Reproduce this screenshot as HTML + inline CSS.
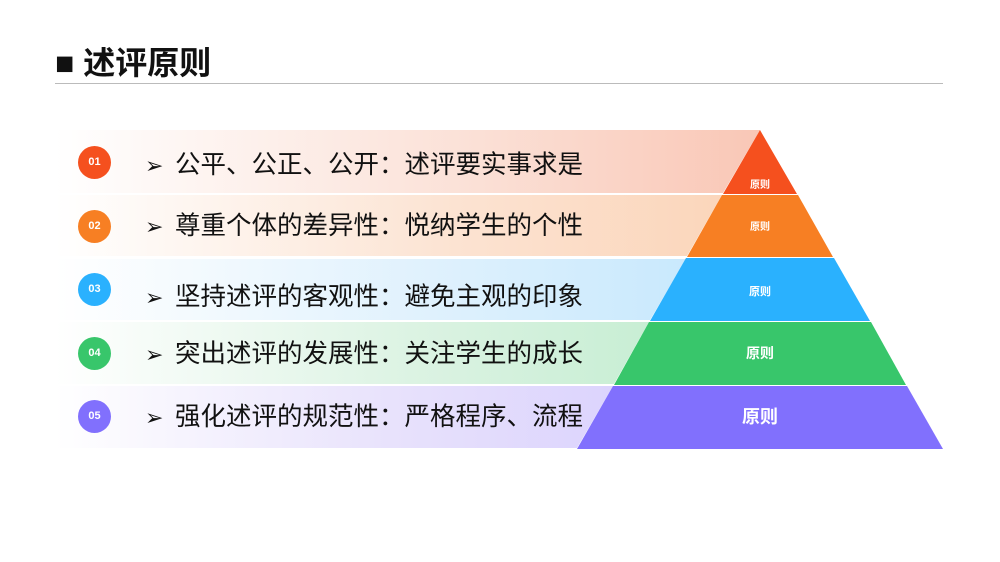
<!DOCTYPE html>
<html><head><meta charset="utf-8"><style>
body{margin:0;width:1000px;height:562px;background:#fff;position:relative;overflow:hidden;font-family:"Liberation Sans","Noto Sans CJK SC",sans-serif}
.t{position:absolute;left:55px;top:38px;font-size:32px;font-weight:bold;color:#111;white-space:nowrap}
.ln{position:absolute;left:55px;top:83px;width:888px;height:1px;background:#bbb}
.c{position:absolute;left:78px;width:33px;height:33px;border-radius:50%;color:#fff;font-size:11px;font-weight:bold;text-align:center;line-height:33px}
.x{position:absolute;left:145px;font-size:25.5px;color:#111;white-space:nowrap}
.x span{display:inline-block;width:30px;font-size:22px;font-family:"DejaVu Sans",sans-serif}
</style></head><body>
<div class="t">■ 述评原则</div>
<div class="ln"></div>
<svg style="position:absolute;left:0;top:0" width="1000" height="562">
<defs>
<linearGradient id="g1"><stop offset="0" stop-color="#fff"/><stop offset=".6" stop-color="#fbe0d6"/><stop offset="1" stop-color="#f9c7b6"/></linearGradient>
<linearGradient id="g2"><stop offset="0" stop-color="#fff"/><stop offset=".6" stop-color="#fce3d2"/><stop offset="1" stop-color="#fbd6bb"/></linearGradient>
<linearGradient id="g3"><stop offset="0" stop-color="#fff"/><stop offset=".6" stop-color="#dff1fd"/><stop offset="1" stop-color="#c9e9fd"/></linearGradient>
<linearGradient id="g4"><stop offset="0" stop-color="#fff"/><stop offset=".6" stop-color="#dcf3e3"/><stop offset="1" stop-color="#c8eed4"/></linearGradient>
<linearGradient id="g5"><stop offset="0" stop-color="#fff"/><stop offset=".6" stop-color="#e8e2fc"/><stop offset="1" stop-color="#dcd4fd"/></linearGradient>
</defs>
<polygon points="55,130 760,130 723,193 55,193" fill="url(#g1)"/>
<polygon points="55,195 722,195 687,256 55,256" fill="url(#g2)"/>
<polygon points="55,259 686,259 650,320 55,320" fill="url(#g3)"/>
<polygon points="55,322 649,322 614,384 55,384" fill="url(#g4)"/>
<polygon points="55,386 613,386 577,448 55,448" fill="url(#g5)"/>
<polygon points="760,130 797,194 723,194" fill="#f5501e"/>
<polygon points="722,195 798,195 833,257 687,257" fill="#f77f23"/>
<polygon points="686,258 834,258 870,321 650,321" fill="#2ab1fe"/>
<polygon points="649,322 871,322 906,385 614,385" fill="#38c66b"/>
<polygon points="613,386 907,386 943,449 577,449" fill="#8170fd"/>
<g fill="#fff" font-weight="bold" text-anchor="middle" font-family="Liberation Sans,Noto Sans CJK SC,sans-serif">
<text x="760" y="188" font-size="10">原则</text>
<text x="760" y="230" font-size="10">原则</text>
<text x="760" y="295" font-size="11">原则</text>
<text x="760" y="358" font-size="14">原则</text>
<text x="760" y="423" font-size="18">原则</text>
</g></svg>
<div class="c" style="top:146px;background:#f5501e">01</div>
<div class="c" style="top:210px;background:#f77f23">02</div>
<div class="c" style="top:273px;background:#2ab1fe">03</div>
<div class="c" style="top:337px;background:#38c66b">04</div>
<div class="c" style="top:400px;background:#8170fd">05</div>
<div class="x" style="top:144px"><span>➢</span>公平、公正、公开：述评要实事求是</div>
<div class="x" style="top:205px"><span>➢</span>尊重个体的差异性：悦纳学生的个性</div>
<div class="x" style="top:276px"><span>➢</span>坚持述评的客观性：避免主观的印象</div>
<div class="x" style="top:333px"><span>➢</span>突出述评的发展性：关注学生的成长</div>
<div class="x" style="top:396px"><span>➢</span>强化述评的规范性：严格程序、流程</div>
</body></html>
